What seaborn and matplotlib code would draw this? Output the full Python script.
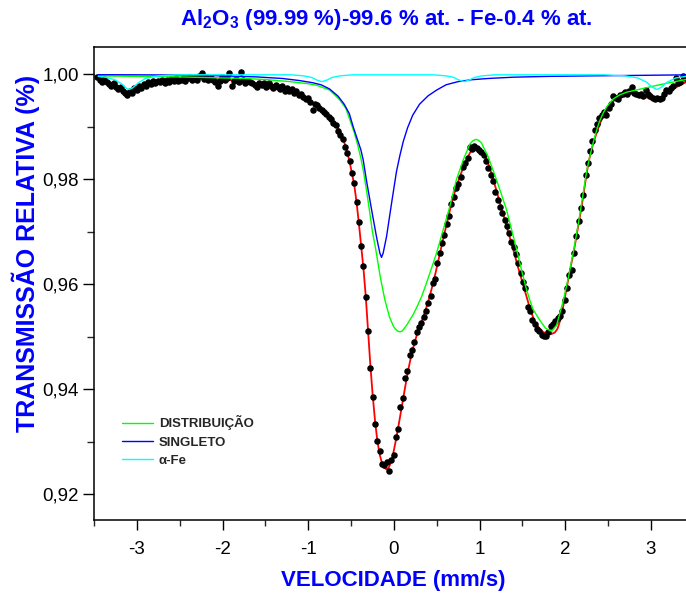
import matplotlib
matplotlib.use("Agg")
import matplotlib.pyplot as plt
import seaborn as sns
from matplotlib.ticker import FuncFormatter, MultipleLocator
from matplotlib.lines import Line2D

# ---------------- data ----------------
# measured spectrum (velocity in mm/s, relative transmission)
velocity = [
    -3.460, -3.433, -3.406, -3.379, -3.352, -3.325, -3.298, -3.271, -3.244, -3.217,
    -3.190, -3.163, -3.136, -3.109, -3.082, -3.055, -3.028, -3.001, -2.974, -2.947,
    -2.920, -2.893, -2.866, -2.839, -2.812, -2.785, -2.758, -2.731, -2.704, -2.677,
    -2.650, -2.623, -2.596, -2.569, -2.542, -2.515, -2.488, -2.461, -2.434, -2.407,
    -2.380, -2.353, -2.326, -2.299, -2.272, -2.245, -2.218, -2.191, -2.164, -2.137,
    -2.110, -2.083, -2.056, -2.029, -2.002, -1.975, -1.948, -1.921, -1.894, -1.867,
    -1.840, -1.813, -1.786, -1.759, -1.732, -1.705, -1.678, -1.651, -1.624, -1.597,
    -1.570, -1.543, -1.516, -1.489, -1.462, -1.435, -1.408, -1.381, -1.354, -1.327,
    -1.300, -1.273, -1.246, -1.219, -1.192, -1.165, -1.138, -1.111, -1.084, -1.057,
    -1.030, -1.003, -0.976, -0.949, -0.922, -0.895, -0.868, -0.841, -0.814, -0.787,
    -0.760, -0.733, -0.706, -0.679, -0.652, -0.625, -0.598, -0.571, -0.544, -0.517,
    -0.490, -0.463, -0.436, -0.409, -0.382, -0.355, -0.328, -0.301, -0.274, -0.247,
    -0.220, -0.193, -0.166, -0.139, -0.112, -0.085, -0.058, -0.031, -0.004, 0.023,
    0.050, 0.077, 0.104, 0.131, 0.158, 0.185, 0.212, 0.239, 0.266, 0.293,
    0.320, 0.347, 0.374, 0.401, 0.428, 0.455, 0.482, 0.509, 0.536, 0.563,
    0.590, 0.617, 0.644, 0.671, 0.698, 0.725, 0.752, 0.779, 0.806, 0.833,
    0.860, 0.887, 0.914, 0.941, 0.968, 0.995, 1.022, 1.049, 1.076, 1.103,
    1.130, 1.157, 1.184, 1.211, 1.238, 1.265, 1.292, 1.319, 1.346, 1.373,
    1.400, 1.427, 1.454, 1.481, 1.508, 1.535, 1.562, 1.589, 1.616, 1.643,
    1.670, 1.697, 1.724, 1.751, 1.778, 1.805, 1.832, 1.859, 1.886, 1.913,
    1.940, 1.967, 1.994, 2.021, 2.048, 2.075, 2.102, 2.129, 2.156, 2.183,
    2.210, 2.237, 2.264, 2.291, 2.318, 2.345, 2.372, 2.399, 2.426, 2.453,
    2.480, 2.507, 2.534, 2.561, 2.588, 2.615, 2.642, 2.669, 2.696, 2.723,
    2.750, 2.777, 2.804, 2.831, 2.858, 2.885, 2.912, 2.939, 2.966, 2.993,
    3.020, 3.047, 3.074, 3.101, 3.128, 3.155, 3.182, 3.209, 3.236, 3.263,
    3.290, 3.317, 3.344, 3.371, 3.398,
]
transmission = [
    0.9994, 0.9989, 0.9985, 0.9991, 0.9986, 0.9982, 0.9978, 0.9983, 0.9975, 0.9972,
    0.9976, 0.9968, 0.9965, 0.9960, 0.9969, 0.9964, 0.9973, 0.9970, 0.9977, 0.9974,
    0.9982, 0.9978, 0.9986, 0.9982, 0.9988, 0.9983, 0.9987, 0.9985, 0.9990, 0.9984,
    0.9989, 0.9986, 0.9991, 0.9987, 0.9992, 0.9988, 0.9990, 0.9993, 0.9988, 0.9992,
    0.9995, 0.9989, 0.9993, 0.9990, 0.9996, 1.0002, 0.9991, 0.9994, 0.9989, 0.9993,
    0.9990, 0.9986, 0.9978, 0.9987, 0.9995, 0.9989, 0.9992, 1.0002, 0.9977, 0.9988,
    0.9991, 0.9985, 1.0004, 0.9990, 0.9983, 0.9988, 0.9986, 0.9983, 0.9980, 0.9976,
    0.9983, 0.9979, 0.9984, 0.9976, 0.9983, 0.9978, 0.9973, 0.9980, 0.9976, 0.9972,
    0.9978, 0.9969, 0.9973, 0.9968, 0.9972, 0.9964, 0.9968, 0.9961, 0.9963, 0.9957,
    0.9953, 0.9955, 0.9948, 0.9932, 0.9944, 0.9941, 0.9936, 0.9932, 0.9929, 0.9925,
    0.9918, 0.9914, 0.9908, 0.9903, 0.9891, 0.9884, 0.9876, 0.9862, 0.9850, 0.9834,
    0.9812, 0.9792, 0.9757, 0.9719, 0.9672, 0.9634, 0.9576, 0.9510, 0.9441, 0.9384,
    0.9333, 0.9301, 0.9282, 0.9258, 0.9256, 0.9261, 0.9244, 0.9265, 0.9274, 0.9309,
    0.9324, 0.9366, 0.9383, 0.9421, 0.9435, 0.9465, 0.9474, 0.9489, 0.9508, 0.9519,
    0.9526, 0.9538, 0.9548, 0.9564, 0.9578, 0.9602, 0.9610, 0.9640, 0.9660, 0.9678,
    0.9694, 0.9714, 0.9730, 0.9752, 0.9767, 0.9783, 0.9790, 0.9804, 0.9824, 0.9830,
    0.9840, 0.9862, 0.9858, 0.9864, 0.9859, 0.9856, 0.9851, 0.9846, 0.9834, 0.9821,
    0.9808, 0.9797, 0.9776, 0.9760, 0.9748, 0.9736, 0.9722, 0.9710, 0.9697, 0.9680,
    0.9670, 0.9658, 0.9640, 0.9622, 0.9605, 0.9592, 0.9556, 0.9548, 0.9532, 0.9525,
    0.9514, 0.9510, 0.9504, 0.9502, 0.9502, 0.9508, 0.9520, 0.9524, 0.9529, 0.9535,
    0.9540, 0.9548, 0.9570, 0.9592, 0.9618, 0.9627, 0.9659, 0.9692, 0.9720, 0.9746,
    0.9770, 0.9808, 0.9830, 0.9854, 0.9872, 0.9894, 0.9905, 0.9916, 0.9922, 0.9928,
    0.9922, 0.9935, 0.9944, 0.9959, 0.9955, 0.9952, 0.9960, 0.9963, 0.9966, 0.9962,
    0.9968, 0.9975, 0.9964, 0.9962, 0.9961, 0.9963, 0.9958, 0.9970, 0.9962, 0.9959,
    0.9955, 0.9952, 0.9954, 0.9952, 0.9955, 0.9962, 0.9970, 0.9968, 0.9973, 0.9978,
    0.9992, 0.9983, 0.9986, 0.9997, 0.9992,
]

# total fit (red)
fit_v = [
    -3.45, -3.35, -3.25, -3.18, -3.12, -3.06, -2.98, -2.90, -2.77, -2.60,
    -2.40, -2.20, -2.00, -1.80, -1.60, -1.41, -1.30, -1.20, -1.10, -1.02,
    -0.95, -0.90, -0.85, -0.785, -0.73, -0.70, -0.67, -0.63, -0.59, -0.552,
    -0.52, -0.494, -0.463, -0.436, -0.409, -0.382, -0.355, -0.328, -0.301, -0.274,
    -0.247, -0.22, -0.193, -0.166, -0.139, -0.112, -0.085, -0.058, -0.031, -0.004,
    0.023, 0.05, 0.077, 0.104, 0.131, 0.158, 0.185, 0.212, 0.239, 0.266,
    0.293, 0.32, 0.347, 0.374, 0.401, 0.428, 0.455, 0.482, 0.509, 0.537,
    0.563, 0.595, 0.625, 0.653, 0.68, 0.71, 0.74, 0.77, 0.80, 0.83,
    0.86, 0.887, 0.914, 0.941, 0.968, 0.995, 1.022, 1.05, 1.08, 1.11,
    1.14, 1.17, 1.20, 1.237, 1.27, 1.30, 1.33, 1.36, 1.39, 1.42,
    1.45, 1.48, 1.51, 1.55, 1.59, 1.625, 1.66, 1.70, 1.74, 1.78,
    1.84, 1.88, 1.91, 1.94, 1.97, 2.00, 2.03, 2.06, 2.10, 2.13,
    2.16, 2.19, 2.21, 2.24, 2.27, 2.30, 2.33, 2.37, 2.40, 2.43,
    2.46, 2.52, 2.58, 2.64, 2.72, 2.80, 2.87, 2.95, 3.00, 3.05,
    3.10, 3.15, 3.20, 3.28, 3.35, 3.41,
]
fit_t = [
    0.9993, 0.9987, 0.9980, 0.9972, 0.99668, 0.9968, 0.9975, 0.9981, 0.9986, 0.9989,
    0.9991, 0.9992, 0.99905, 0.9987, 0.9982, 0.9977, 0.9973, 0.9968, 0.9962, 0.9955,
    0.9947, 0.9941, 0.9934, 0.9925, 0.9916, 0.9910, 0.9902, 0.9892, 0.9876, 0.9856,
    0.9836, 0.9815, 0.9790, 0.9757, 0.9717, 0.9674, 0.9630, 0.9577, 0.9512, 0.9445,
    0.9388, 0.9340, 0.9302, 0.9276, 0.9259, 0.9250, 0.9247, 0.9251, 0.9262, 0.9280,
    0.9302, 0.9326, 0.9352, 0.9378, 0.9403, 0.9428, 0.9450, 0.9470, 0.9487, 0.9502,
    0.9515, 0.9527, 0.9540, 0.9553, 0.9567, 0.9583, 0.9600, 0.9618, 0.9638, 0.9658,
    0.9677, 0.9700, 0.9720, 0.9740, 0.9758, 0.9775, 0.9790, 0.9805, 0.9818, 0.9830,
    0.9841, 0.9850, 0.9856, 0.9859, 0.9860, 0.9859, 0.9855, 0.9848, 0.9838, 0.9826,
    0.9811, 0.9794, 0.9777, 0.9756, 0.9738, 0.9720, 0.9702, 0.9685, 0.9668, 0.9650,
    0.9632, 0.9615, 0.9598, 0.9575, 0.9553, 0.9537, 0.9524, 0.9515, 0.9509, 0.9506,
    0.9505, 0.9508, 0.9515, 0.9530, 0.9552, 0.9578, 0.9603, 0.9630, 0.9662, 0.9690,
    0.9718, 0.9746, 0.9768, 0.9800, 0.9830, 0.9852, 0.9870, 0.9890, 0.9904, 0.9916,
    0.9926, 0.9941, 0.9952, 0.9959, 0.9964, 0.9963, 0.9961, 0.9956, 0.9952, 0.9950,
    0.9951, 0.9957, 0.9965, 0.9974, 0.9980, 0.9985,
]

# distribution component (green)
dist_v = [
    -3.45, -3.0, -2.5, -2.0, -1.8, -1.5, -1.21, -1.0, -0.9, -0.75,
    -0.63, -0.56, -0.513, -0.46, -0.417, -0.385, -0.358, -0.32, -0.28, -0.25,
    -0.21, -0.16, -0.105, -0.05, 0.0, 0.04, 0.07, 0.1, 0.15, 0.225,
    0.265, 0.323, 0.37, 0.42, 0.498, 0.575, 0.653, 0.73, 0.81, 0.887,
    0.92, 0.957, 0.99, 1.023, 1.10, 1.198, 1.315, 1.43, 1.49, 1.548,
    1.59, 1.625, 1.70, 1.77, 1.84, 1.90, 1.98, 2.04, 2.10, 2.16,
    2.21, 2.25, 2.29, 2.33, 2.37, 2.40, 2.44, 2.48, 2.56, 2.64,
    2.72, 2.91, 3.10, 3.25, 3.41, 3.45,
]
dist_t = [
    0.9997, 0.9996, 0.9995, 0.9993, 0.99924, 0.9990, 0.9986, 0.9982, 0.9979, 0.9970,
    0.9951, 0.9935, 0.9913, 0.9888, 0.9862, 0.9840, 0.9818, 0.9780, 0.9735, 0.9700,
    0.9665, 0.9615, 0.9570, 0.9537, 0.9518, 0.9511, 0.9509, 0.9511, 0.9522, 0.9542,
    0.9555, 0.9576, 0.9597, 0.9621, 0.9659, 0.9703, 0.9748, 0.9799, 0.9837, 0.9867,
    0.9873, 0.9876, 0.9874, 0.9869, 0.9843, 0.9799, 0.9742, 0.9668, 0.9627, 0.9590,
    0.9568, 0.9552, 0.9532, 0.9516, 0.9510, 0.9522, 0.9570, 0.9615, 0.9665, 0.9722,
    0.9773, 0.9815, 0.9845, 0.9872, 0.9895, 0.9910, 0.9925, 0.9937, 0.9953, 0.9961,
    0.9966, 0.9973, 0.9980, 0.9985, 0.9990, 0.9991,
]

# singlet component (blue)
singlet_v = [
    -3.45, -3.0, -2.5, -2.0, -1.6, -1.3, -1.1, -0.95, -0.85, -0.75,
    -0.65, -0.58, -0.52, -0.475, -0.43, -0.385, -0.358, -0.32, -0.26, -0.2,
    -0.163, -0.144, -0.125, -0.085, -0.027, 0.031, 0.07, 0.11, 0.16, 0.22,
    0.3, 0.4, 0.5, 0.61, 0.75, 0.9, 1.1, 1.4, 1.8, 2.3,
    2.9, 3.45,
]
singlet_t = [
    0.99992, 0.9999, 0.99985, 0.9997, 0.9995, 0.9992, 0.9988, 0.9984, 0.9980, 0.9972,
    0.9958, 0.9943, 0.9925, 0.9900, 0.9878, 0.9856, 0.9837, 0.9798, 0.9742, 0.9688,
    0.9659, 0.9651, 0.9659, 0.9691, 0.9754, 0.9815, 0.9845, 0.9872, 0.9898, 0.9922,
    0.9943, 0.9959, 0.9970, 0.9980, 0.9986, 0.99895, 0.9992, 0.99945, 0.9996, 0.9997,
    0.9998, 0.9999,
]

# alpha-Fe sextet component (cyan)
alpha_fe_v = [
    -3.45, -3.35, -3.25, -3.18, -3.12, -3.09, -3.05, -2.98, -2.9, -2.75,
    -2.5, -1.2, -1.05, -0.96, -0.9, -0.84, -0.78, -0.72, -0.63, -0.48,
    0.46, 0.61, 0.7, 0.76, 0.82, 0.88, 0.94, 1.03, 1.18, 2.45,
    2.7, 2.85, 2.95, 3.02, 3.07, 3.12, 3.19, 3.29, 3.45,
]
alpha_fe_t = [
    0.9996, 0.9994, 0.9989, 0.9982, 0.9973, 0.9971, 0.9974, 0.9984, 0.9992, 0.9997,
    0.9999, 0.9999, 0.9997, 0.9994, 0.9989, 0.9986, 0.9989, 0.9994, 0.9997, 0.9999,
    0.9999, 0.9997, 0.9994, 0.9989, 0.9986, 0.9989, 0.9994, 0.9997, 0.9999, 0.9999,
    0.9997, 0.9993, 0.9985, 0.9975, 0.9971, 0.9975, 0.9985, 0.9993, 0.9997,
]

title_text = "Al$_2$O$_3$ (99.99 %)-99.6 % at. - Fe-0.4 % at."
x_label = "VELOCIDADE (mm/s)"
y_label = "TRANSMISSÃO RELATIVA (%)"
legend_labels = ["DISTRIBUIÇÃO", "SINGLETO", "α-Fe"]
x_ticks = [-3, -2, -1, 0, 1, 2, 3]
y_ticks = [0.92, 0.94, 0.96, 0.98, 1.00]

# ---------------- styling ----------------
sns.set_theme(style="ticks")
plt.rcParams["font.family"] = ["Liberation Sans", "DejaVu Sans"]
plt.rcParams["mathtext.default"] = "regular"
plt.rcParams["axes.linewidth"] = 1.1
plt.rcParams["xtick.direction"] = "out"
plt.rcParams["ytick.direction"] = "out"

BLUE_TXT = "#0000FF"

fig = plt.figure(figsize=(6.86, 6.0), dpi=100)
fig.patch.set_facecolor("white")
ax = fig.add_axes([94 / 686, 80 / 600, 592 / 686, 473 / 600])
ax.set_facecolor("white")

sns.lineplot(x=fit_v, y=fit_t, color="#FF0000", linewidth=1.3, ax=ax,
             sort=False, estimator=None, legend=False, zorder=2)
sns.scatterplot(x=velocity, y=transmission, color="black", s=22, linewidth=0,
                ax=ax, legend=False, zorder=3)
sns.lineplot(x=dist_v, y=dist_t, color="#00FF00", linewidth=1.0, ax=ax,
             sort=False, estimator=None, legend=False, zorder=4)
sns.lineplot(x=singlet_v, y=singlet_t, color="#0000FF", linewidth=1.0, ax=ax,
             sort=False, estimator=None, legend=False, zorder=5)
sns.lineplot(x=alpha_fe_v, y=alpha_fe_t, color="#00FFFF", linewidth=1.0, ax=ax,
             sort=False, estimator=None, legend=False, zorder=6)

ax.set_xlim(-3.50, 3.41)
ax.set_ylim(0.91505, 1.0052)

ax.set_xticks(x_ticks)
ax.set_yticks(y_ticks)
ax.xaxis.set_minor_locator(MultipleLocator(0.5))
ax.yaxis.set_minor_locator(MultipleLocator(0.01))
ax.xaxis.set_major_formatter(FuncFormatter(lambda v, p: f"{int(round(v))}"))
ax.yaxis.set_major_formatter(FuncFormatter(lambda v, p: f"{v:.2f}".replace(".", ",")))
ax.tick_params(axis="x", which="major", length=7, width=1.0, labelsize=13.5,
               pad=8, colors="black")
ax.tick_params(axis="x", which="minor", length=4.5, width=1.0)
ax.tick_params(axis="y", which="major", length=8, width=1.0, labelsize=13.5,
               pad=3, colors="black")
ax.tick_params(axis="y", which="minor", length=5, width=1.0)
ax.tick_params(top=False, right=False, which="both")

for side in ["left", "bottom", "top"]:
    ax.spines[side].set_color("black")
    ax.spines[side].set_visible(True)
ax.spines["right"].set_visible(False)
ax.grid(False)

ax.set_xlabel(x_label, fontsize=16, fontweight="bold", color=BLUE_TXT)
ax.xaxis.set_label_coords(0.505, -0.127)
ax.xaxis.label.set_va("center")
ax.set_ylabel(y_label, fontsize=18, fontweight="bold", color=BLUE_TXT)
ax.yaxis.set_label_coords(-0.115, 0.5645)
ax.yaxis.label.set_va("center")

ax.set_title(title_text, fontsize=16, fontweight="bold", color=BLUE_TXT,
             x=0.494, y=1.040, va="center")

handles = [
    Line2D([], [], color="#00FF00", linewidth=1.0),
    Line2D([], [], color="#0000FF", linewidth=1.0),
    Line2D([], [], color="#00FFFF", linewidth=1.0),
]
ax.legend(handles, legend_labels, loc="center left",
          bbox_to_anchor=(0.047, 0.167), frameon=False,
          prop={"family": ["Liberation Sans", "DejaVu Sans"], "weight": "bold", "size": 9.5},
          handlelength=2.4, handletextpad=0.4, labelspacing=0.45,
          borderpad=0, borderaxespad=0)

fig.savefig("out.png", dpi=100, facecolor="white")
